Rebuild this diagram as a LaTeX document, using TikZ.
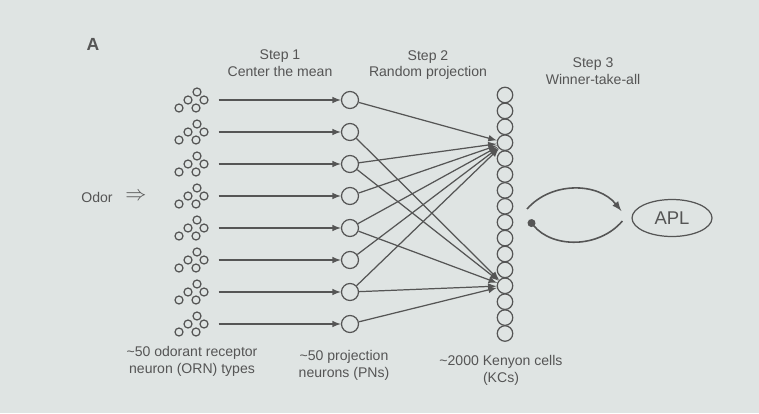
\documentclass[tikz,border=0pt]{standalone}
\usepackage{fontspec}
\setmainfont{Liberation Sans}
\usepackage{xcolor}
\usepackage{tikz}
\usetikzlibrary{shapes, arrows, arrows.meta, positioning, calc, backgrounds}
\definecolor{paper}{RGB}{223,228,227}
\definecolor{ink}{RGB}{85,85,85}

\begin{document}
\begin{tikzpicture}[x=0.02cm, y=-0.02cm, >=latex, line width=0.7pt, draw=ink, text=ink]
    \tikzstyle{pn} = [circle, draw, minimum size=0.34cm, inner sep=0pt]
    \tikzstyle{kc} = [circle, draw, minimum size=0.31cm, inner sep=0pt]
    \tikzstyle{orn} = [circle, draw, minimum size=0.16cm, inner sep=0pt]
    \tikzstyle{cluster} = [inner sep=0pt, minimum width=1cm, minimum height=0.4cm]
    \tikzstyle{txt} = [align=center, font=\fontsize{8}{9.6}\selectfont]

    \fill[paper] (0,0) rectangle (759,413);

    \node [font=\bfseries\fontsize{10}{12}\selectfont] (panel) at (93,44) {A};

    \node [txt] (step1) at (280,63) {Step 1\\Center the mean};
    \node [txt] (step2) at (428,65) {Step 2\\Random projection};
    \node [txt] (step3) at (593,71) {Step 3\\Winner-take-all};

    \node [txt] (odor) at (97,197) {Odor};
    \node [font=\fontsize{13}{14}\selectfont] (into) at (136,197) {$\Rightarrow$};

    \foreach \i in {1,...,8} {
        \pgfmathsetmacro{\y}{100+32*(\i-1)}
        \node [cluster] (orn\i) at (193,\y) {};
        \foreach \dx/\dy/\c in {4/-8/a, -5/0/b, 11/0/c, 3/8/d, -14/8/e}
            \path (orn\i.center) ++(\dx,\dy) node [orn] (orn\i\c) {};
        \node [pn] (pn\i) at (350,\y) {};
        \draw [->] (orn\i) -- (pn\i);
    }

    \foreach \k in {1,...,16}
        \node [kc] (kc\k) at ({505},{95+15.9*(\k-1)}) {};

    \foreach \p in {1,3,4,5,6,7}
        \draw [->] (pn\p) -- (kc4);
    \foreach \p in {2,3,5,7,8}
        \draw [->] (pn\p) -- (kc13);

    \node [ellipse, draw, minimum width=1.6cm, minimum height=0.74cm,
           font=\fontsize{10.5}{12}\selectfont] (apl) at (672,218) {APL};

    \coordinate (kcout) at (527,209);
    \coordinate (kcin) at (529,220);
    \draw [->, line width=0.9pt] (kcout) to[bend left=50] ([xshift=-0.2cm, yshift=0.14cm]apl.west);
    \draw [-{Circle[length=4.5pt]}, line width=0.9pt] ([xshift=-0.18cm, yshift=-0.06cm]apl.west) to[bend left=50] (kcin);

    \node [txt] (ornlab) at (192,361) {\textasciitilde50 odorant receptor\\neuron (ORN) types};
    \node [txt] (pnlab) at (344,365) {\textasciitilde50 projection\\neurons (PNs)};
    \node [txt] (kclab) at (501,370) {\textasciitilde2000 Kenyon cells\\(KCs)};
\end{tikzpicture}
\end{document}
